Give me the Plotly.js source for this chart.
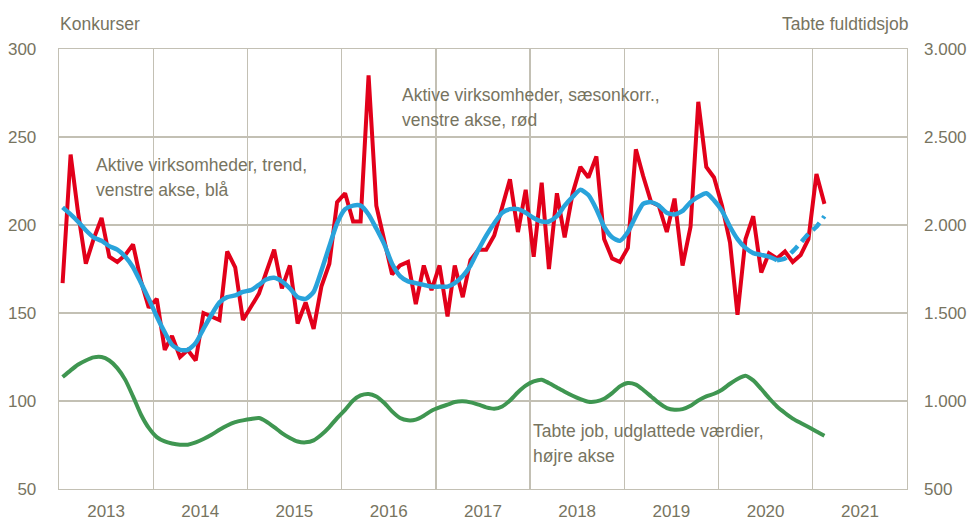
<!DOCTYPE html>
<html>
<head>
<meta charset="utf-8">
<script src="https://cdn.plot.ly/plotly-3.0.1.min.js"></script>
<style>html,body{margin:0;padding:0;background:#fff}#chart{width:969px;height:523px}</style>
</head>
<body>
<div id="chart"></div>
<script>
// Monthly observations, January 2013 - February 2021 (98 months)
const startYear = 2013, nMonths = 98;
const months = [];
for (let i = 0; i < nMonths; i++) {
  const y = startYear + Math.floor(i / 12), m = (i % 12) + 1;
  months.push(y + '-' + String(m).padStart(2, '0') + '-15');
}

// Konkurser, aktive virksomheder, sæsonkorrigeret (venstre akse, rød)
const konkurserSA = [
  167,240,208,178,192,204,182,179,183,189,168,153,
  158,129,137,125,129,123,150,148,146,185,176,146,
  154,161,173,186,164,177,144,156,141,165,178,213,
  218,202,202,285,211,192,172,177,179,155,177,163,
  177,148,177,159,180,186,186,194,210,226,196,220,
  182,224,175,218,193,218,233,227,239,192,181,179,
  187,243,228,213,211,196,215,177,199,270,233,227,
  211,190,149,192,205,173,184,181,185,179,183,192,
  229,212
];

// Konkurser, aktive virksomheder, trend (venstre akse, blå) - Jan 2013 .. Aug 2020
const konkurserTrend = [
  210,206,202,197,193,191,188,186,182,176,167,158,
  148,139,132,129,129,133,141,149,156,159,160,162,
  163,166,169,170,168,164,159,158,162,174,188,201,
  209,211,211,206,198,189,178,171,168,167,166,165,
  165,165,167,171,177,186,194,201,207,209,209,207,
  204,202,202,205,211,216,220,217,209,199,193,191,
  196,205,212,213,211,207,206,208,213,216,218,214,
  208,199,192,187,184,183,182,180
];
// Trend, foreløbig (stiplet) - Aug 2020 .. Feb 2021
const konkurserTrendForeloebig = [180,181,185,190,195,199,205];

// Tabte fuldtidsjob, udglattede værdier (højre akse, grøn)
const tabteJob = [
  1136,1174,1206,1230,1248,1250,1230,1187,1120,1026,922,847,
  795,770,759,752,752,765,784,808,837,861,880,890,
  898,903,884,852,818,790,770,765,776,808,852,903,
  950,1003,1032,1040,1026,989,941,903,890,894,916,945,
  964,979,994,998,992,979,964,956,969,1003,1050,1087,
  1111,1121,1102,1077,1053,1030,1011,996,998,1013,1045,1083,
  1102,1093,1064,1026,989,960,950,954,973,1003,1026,1041,
  1064,1098,1125,1144,1117,1068,1017,969,932,900,875,852,
  827,803
];

const yTicksLeft = [50,100,150,200,250,300];
const yTicksRight = [500,1000,1500,2000,2500,3000];

const textColor = '#77745F';
const gridColor = '#C3C0B4';
const fontFam = '"Liberation Sans", Arial, sans-serif';

const traces = [
  {
    x: months, y: tabteJob, yaxis: 'y2', type: 'scatter', mode: 'lines',
    line: {color: '#3F9651', width: 4, shape: 'spline', smoothing: 0.6},
    name: 'Tabte job', hoverinfo: 'skip'
  },
  {
    x: months, y: konkurserSA, type: 'scatter', mode: 'lines',
    line: {color: '#E2001A', width: 4},
    name: 'Sæsonkorr.', hoverinfo: 'skip'
  },
  {
    x: months.slice(0, konkurserTrend.length), y: konkurserTrend, type: 'scatter', mode: 'lines',
    line: {color: '#29A3DB', width: 4.5, shape: 'spline', smoothing: 0.6},
    name: 'Trend', hoverinfo: 'skip'
  },
  {
    x: months.slice(konkurserTrend.length - 1), y: konkurserTrendForeloebig, type: 'scatter', mode: 'lines',
    line: {color: '#29A3DB', width: 4.5, dash: '10px,6px', shape: 'spline', smoothing: 0.6},
    name: 'Trend foreløbig', hoverinfo: 'skip'
  }
];

const W = 969, H = 523;
const pl = 58.5, pr = 906.7, pt = 49.3, pb = 489.3;
const px = v => (v - pl) / (pr - pl);
const py = v => (pb - v) / (pb - pt);

const annFont = {family: fontFam, size: 17.5, color: textColor};
const tickFont = {family: fontFam, size: 17, color: textColor};
const ann = (text, x, y, anchor) => ({
  xref: 'paper', yref: 'paper', x: px(x), y: py(y), xanchor: anchor || 'left', yanchor: 'middle',
  text: text, showarrow: false, font: annFont, borderpad: 0
});

const layout = {
  width: W, height: H,
  margin: {l: pl, r: W - pr, t: pt, b: H - pb, pad: 0},
  paper_bgcolor: '#ffffff', plot_bgcolor: '#ffffff',
  showlegend: false,
  hovermode: false,
  separators: ',.',
  font: {family: fontFam, size: 17, color: textColor},
  xaxis: {
    type: 'date',
    range: ['2013-01-01', '2022-01-01'],
    tick0: '2013-01-01', dtick: 'M12',
    tickformat: '%Y', ticklabelmode: 'period',
    showgrid: true, gridcolor: gridColor, gridwidth: 1.3,
    showline: true, linecolor: gridColor, linewidth: 1.3, mirror: true,
    ticks: '', ticklabelstandoff: 6,
    tickfont: tickFont,
    zeroline: false, fixedrange: true
  },
  yaxis: {
    range: [50, 300], tickvals: yTicksLeft,
    showgrid: true, gridcolor: gridColor, gridwidth: 1.3,
    showline: true, linecolor: gridColor, linewidth: 1.3, mirror: true,
    ticks: '', ticklabelstandoff: 18,
    tickfont: tickFont,
    zeroline: false, fixedrange: true
  },
  yaxis2: {
    range: [500, 3000], tickvals: yTicksRight, tickformat: ',d',
    overlaying: 'y', side: 'right',
    showgrid: false, showline: false, ticks: '', ticklabelstandoff: 16,
    tickfont: tickFont,
    zeroline: false, fixedrange: true
  },
  annotations: [
    ann('Konkurser', 58, 24),
    ann('Tabte fuldtidsjob', 909, 24, 'right'),
    ann('Aktive virksomheder, trend,', 95, 165),
    ann('venstre akse, blå', 95, 190),
    ann('Aktive virksomheder, sæsonkorr.,', 401, 95),
    ann('venstre akse, rød', 401, 120),
    ann('Tabte job, udglattede værdier,', 532, 431),
    ann('højre akse', 532, 456)
  ]
};

Plotly.newPlot('chart', traces, layout, {staticPlot: true, displayModeBar: false});
</script>
</body>
</html>
